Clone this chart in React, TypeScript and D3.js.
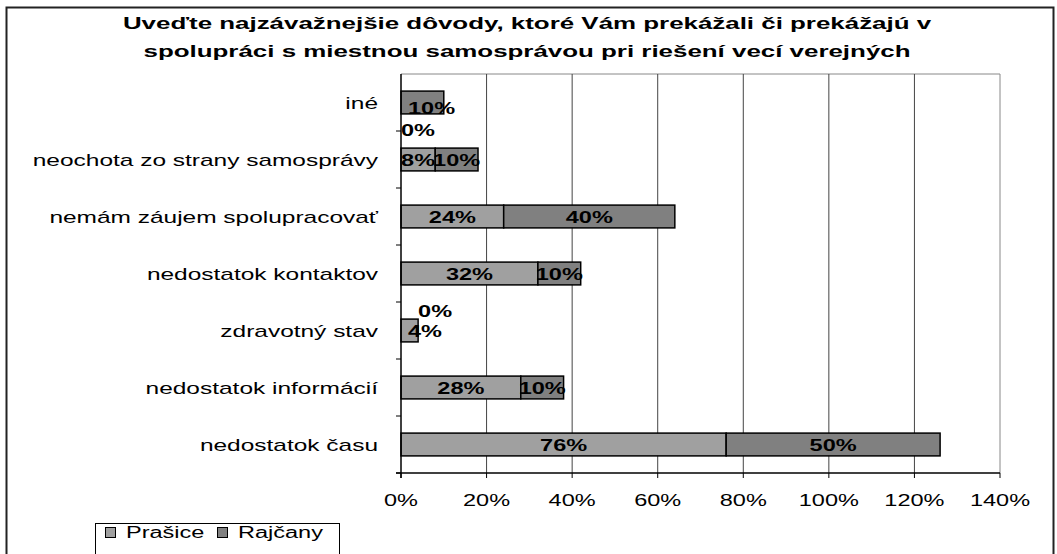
import { scaleLinear, scaleBand } from "d3";

let titleLines = [
  "Uveďte najzávažnejšie dôvody, ktoré Vám prekážali či prekážajú v",
  "spolupráci s miestnou samosprávou pri riešení vecí verejných",
];

let categories = [
  "iné",
  "neochota zo strany samosprávy",
  "nemám záujem spolupracovať",
  "nedostatok kontaktov",
  "zdravotný stav",
  "nedostatok informácií",
  "nedostatok času",
];

let seriesNames = ["Prašice", "Rajčany"];
let prasice = [0, 8, 24, 32, 4, 28, 76];
let rajcany = [10, 10, 40, 10, 0, 10, 50];
let xTicks = [0, 20, 40, 60, 80, 100, 120, 140];

let colors = ["#a0a0a0", "#808080"];
let font = "'Liberation Sans', Arial, sans-serif";

// the source picture is stretched sideways, so every text is too
let T = ({ x, y, anchor = "middle", bold = false, size = 16, sx = 1.47, children }: any) => (
  <text
    transform={`translate(${x},${y}) scale(${sx},1)`}
    textAnchor={anchor}
    fontFamily={font}
    fontSize={size}
    fontWeight={bold ? "bold" : "normal"}
    fill="#000"
  >
    {children}
  </text>
);

export default function App() {
  let width = 1057;
  let height = 554;
  let plot = { left: 401, right: 1000, top: 74, bottom: 473 };

  let xScale = scaleLinear().domain([0, 140]).range([plot.left, plot.right]);
  let yScale = scaleBand()
    .domain(categories)
    .range([plot.top, plot.bottom])
    .paddingInner(0.6)
    .paddingOuter(0.3);
  let step = yScale.step();
  let bw = yScale.bandwidth();

  let rows = categories.map((c, i) => {
    let vals = [prasice[i], rajcany[i]];
    let start = 0;
    let segs = vals.map((v, s) => {
      let seg = { s, v, x0: start, x1: start + v };
      start += v;
      return seg;
    });
    return { c, segs, hasZero: vals.some((v) => v === 0) };
  });

  let boundaries = categories.map((_, i) => plot.top + step * (i + 1));

  return (
    <svg
      width={width}
      height={height}
      style={{ position: "absolute", left: 0, top: 0, background: "#fff" }}
    >
      <rect x={0} y={0} width={width} height={height} fill="#fff" />
      <rect
        x={6.5}
        y={7.5}
        width={1047}
        height={600}
        fill="none"
        stroke="#222"
        strokeWidth={2}
      />

      {titleLines.map((t, i) => (
        <T key={i} x={527} y={29 + i * 28} bold sx={1.62}>
          {t}
        </T>
      ))}

      {/* grid */}
      <line x1={plot.left} x2={plot.right} y1={plot.top} y2={plot.top} stroke="#888" />
      {xTicks.slice(1).map((t) => (
        <line
          key={t}
          x1={xScale(t)}
          x2={xScale(t)}
          y1={plot.top}
          y2={plot.bottom}
          stroke={t === 140 ? "#888" : "#444"}
        />
      ))}

      {/* bars */}
      {rows.map((r) =>
        r.segs.map((sg) =>
          sg.v > 0 ? (
            <rect
              key={r.c + sg.s}
              x={xScale(sg.x0)}
              y={yScale(r.c)}
              width={xScale(sg.x1) - xScale(sg.x0)}
              height={bw}
              fill={colors[sg.s]}
              stroke="#000"
              strokeWidth={1.5}
            />
          ) : null
        )
      )}

      {/* axes */}
      <line x1={plot.left} x2={plot.left} y1={plot.top} y2={plot.bottom + 5} stroke="#000" strokeWidth={1.5} />
      <line x1={plot.left - 5} x2={plot.right} y1={plot.bottom} y2={plot.bottom} stroke="#000" strokeWidth={1.5} />
      {boundaries.map((b, i) => (
        <line key={i} x1={plot.left - 5} x2={plot.left} y1={b} y2={b} stroke="#000" />
      ))}
      {xTicks.map((t) => (
        <line key={t} x1={xScale(t)} x2={xScale(t)} y1={plot.bottom} y2={plot.bottom + 5} stroke="#000" />
      ))}
      {xTicks.map((t) => (
        <T key={t} x={xScale(t)} y={506}>
          {t + "%"}
        </T>
      ))}
      {categories.map((c) => (
        <T key={c} x={378} y={yScale(c) + bw / 2 + 6} anchor="end" sx={1.53}>
          {c}
        </T>
      ))}

      {/* data labels */}
      {rows.map((r) =>
        r.segs.map((sg) => {
          let cy = yScale(r.c) + bw / 2;
          if (r.hasZero) {
            // zero label is pushed off the bar, the other one starts at the axis
            let dy = sg.v === 0 ? (sg.s === 0 ? 27 : -20) : sg.s === 1 ? 5 : 0;
            return (
              <T key={r.c + sg.s} x={xScale(sg.x0) + (sg.v === 0 ? 0 : 7)} y={cy + dy + 6} anchor="start" bold>
                {sg.v + "%"}
              </T>
            );
          }
          return (
            <T key={r.c + sg.s} x={(xScale(sg.x0) + xScale(sg.x1)) / 2} y={cy + 6} bold>
              {sg.v + "%"}
            </T>
          );
        })
      )}

      {/* legend */}
      <rect x={95.5} y={523.5} width={244} height={40} fill="#fff" stroke="#000" />
      {seriesNames.map((n, i) => {
        let lx = i === 0 ? 105 : 217;
        return (
          <g key={n}>
            <rect x={lx + 0.5} y={527.5} width={10} height={10} fill={colors[i]} stroke="#000" />
            <T x={lx + 21} y={538} anchor="start">
              {n}
            </T>
          </g>
        );
      })}
    </svg>
  );
}
